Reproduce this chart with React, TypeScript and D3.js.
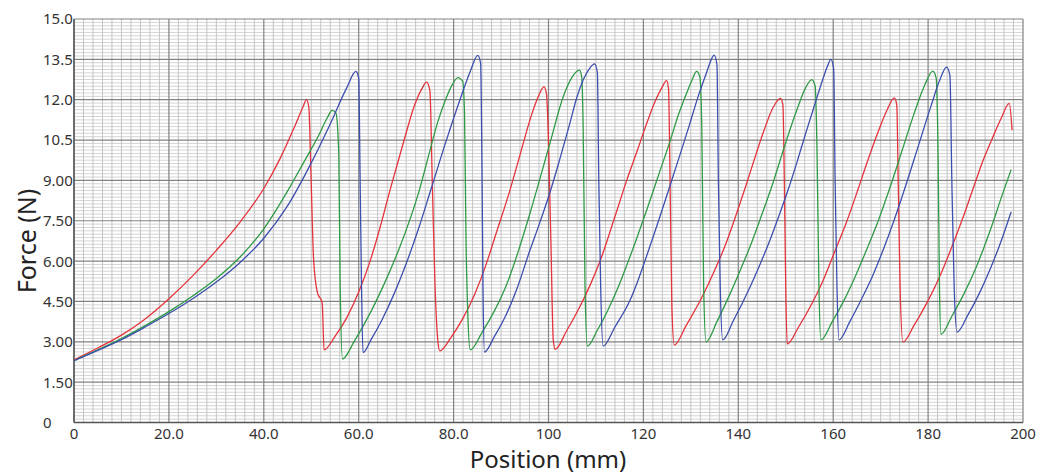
import React from 'react';
import * as d3 from 'd3';

// [position mm, force N]
const redSeries: [number, number][] = [
  [0, 2.33], [5, 2.77], [10, 3.25], [15, 3.85], [20, 4.6], [25, 5.45], [30, 6.4], [35, 7.45],
  [40, 8.7], [43.4, 9.8], [46.5, 11.0], [48.3, 11.75], [49.0, 12.0], [49.5, 11.7], [49.9, 9.5],
  [50.5, 6.04], [51.3, 4.83], [52.3, 4.46], [52.7, 2.7],
  [55, 3.2], [57.5, 3.9], [60, 4.85], [62.4, 6.0], [64.5, 7.25], [66.6, 8.64], [69.6, 10.52],
  [71.7, 11.76], [73.3, 12.4], [74.3, 12.65], [75.0, 12.35], [75.5, 9], [76.1, 5], [76.7, 3.0], [77.1, 2.66],
  [79.4, 3.15], [81.9, 3.85], [84.4, 4.75], [86.8, 5.85], [88.9, 7.0], [91.9, 8.65], [94, 9.95],
  [96.1, 11.25], [97.7, 12.05], [99.05, 12.48], [99.6, 12.2], [99.8, 11.5], [100.5, 6.78], [101.0, 3.07], [101.4, 2.72],
  [103.8, 3.4], [106.6, 4.3], [109, 5.2], [111.2, 6.16], [113.9, 7.6], [116.5, 9.01], [118.7, 10.1],
  [120.7, 11.12], [122.5, 11.95], [123.9, 12.45], [124.9, 12.71], [125.3, 12.4], [125.6, 9.26], [126.0, 4.3], [126.5, 2.88],
  [129, 3.6], [132.6, 4.75], [135, 5.65], [137.5, 6.7], [139.6, 7.75], [141.6, 8.8], [143.6, 9.9],
  [145.5, 10.9], [147.3, 11.7], [148.9, 12.05], [149.4, 11.8], [149.7, 9], [150.0, 5], [150.3, 2.92],
  [152.7, 3.55], [155.3, 4.35], [157.8, 5.25], [160.2, 6.3], [162.7, 7.4], [165.2, 8.65], [167.3, 9.75],
  [169.4, 10.77], [171.3, 11.6], [172.9, 12.07], [173.4, 11.8], [173.7, 9], [174.1, 5], [174.7, 2.99],
  [177, 3.6], [179.6, 4.4], [182, 5.25], [184.5, 6.3], [187, 7.45], [189.4, 8.65], [191.5, 9.7],
  [193.5, 10.55], [195.5, 11.35], [197.1, 11.86], [197.7, 10.87],
];

const greenSeries: [number, number][] = [
  [0, 2.3], [5, 2.7], [10, 3.12], [15, 3.6], [20, 4.12], [25, 4.7], [30, 5.35], [35, 6.15], [40, 7.2],
  [45, 8.6], [48.5, 9.7], [51.5, 10.65], [53.3, 11.3], [54.4, 11.6], [55.2, 11.5],
  [55.8, 10], [56.1, 5], [56.6, 2.36],
  [59, 3.0], [62.6, 4.13], [65.5, 5.2], [68.5, 6.45], [70.8, 7.55], [72.8, 8.65], [74.7, 9.9],
  [76.6, 11.14], [78.3, 12.0], [79.7, 12.55], [80.9, 12.82], [81.9, 12.69], [82.3, 11.5], [82.6, 7], [83.0, 4], [83.5, 2.7],
  [86, 3.35], [88.6, 4.15], [91.2, 5.14], [93.7, 6.4], [96.1, 7.78], [100.3, 10.38], [103.1, 12.11],
  [105, 12.85], [106.5, 13.1], [107.0, 12.85], [107.3, 11], [107.7, 5], [108.2, 2.84],
  [110.2, 3.4], [112.3, 4.1], [114.5, 4.95], [116.5, 5.85], [118.6, 6.85], [120.7, 7.9], [123.2, 9.2],
  [125.6, 10.45], [127.4, 11.45], [129.1, 12.24], [130.3, 12.75], [131.2, 13.05], [131.9, 12.85],
  [132.3, 11], [132.7, 5], [133.2, 3.0],
  [135.5, 3.75], [138.3, 4.8], [140.5, 5.7], [142.5, 6.55], [145, 7.75], [147.2, 8.85], [149.8, 10.3],
  [152.5, 11.7], [154.2, 12.45], [155.5, 12.75], [156.2, 12.5], [156.6, 10], [157.0, 5], [157.4, 3.07],
  [159.8, 3.75], [162.3, 4.55], [164.7, 5.45], [167.1, 6.45], [169.5, 7.5], [171.8, 8.65], [174.5, 10.1],
  [177.1, 11.51], [179.3, 12.55], [181, 13.06], [181.7, 12.8], [182.1, 10], [182.4, 5], [182.7, 3.28],
  [185, 3.95], [187.6, 4.8], [190.2, 5.8], [193, 7.1], [195.7, 8.5], [197.5, 9.4],
];

const blueSeries: [number, number][] = [
  [0, 2.3], [5, 2.68], [10, 3.08], [15, 3.55], [20, 4.05], [25, 4.6], [30, 5.22], [35, 5.95], [40, 6.85],
  [45, 8.05], [50, 9.65], [54, 11.1], [57.5, 12.45], [59.4, 13.05], [60.0, 12.8], [60.3, 9], [60.6, 5], [60.9, 2.6],
  [62.6, 3.08], [65, 3.85], [67.5, 4.8], [70, 5.9], [72.6, 7.2], [75.2, 8.65], [78.4, 10.45], [81.6, 12.13],
  [83.5, 13.05], [85.1, 13.65], [85.7, 13.35], [86.0, 9], [86.2, 5], [86.5, 2.62],
  [88.6, 3.2], [91, 3.98], [93.5, 5.05], [96.1, 6.41], [98.2, 7.45], [100.3, 8.55], [102.4, 9.8],
  [104.5, 11.12], [106, 12.1], [107.3, 12.73], [108.6, 13.15], [109.7, 13.33], [110.3, 13.0], [110.6, 9], [111.0, 5], [111.5, 2.84],
  [114, 3.55], [117.2, 4.55], [118.9, 5.3], [120.7, 6.2], [123.2, 7.5], [125.6, 8.8], [127.7, 9.95],
  [129.8, 11.12], [131.6, 12.15], [133.3, 13.0], [134.2, 13.45], [134.9, 13.66], [135.5, 13.3], [135.8, 9], [136.2, 5], [136.7, 3.07],
  [139, 3.8], [142.5, 5.05], [144.5, 5.85], [146.5, 6.7], [148.5, 7.65], [150.5, 8.65], [152.4, 9.7],
  [154.2, 10.75], [156, 11.76], [157.8, 12.75], [158.8, 13.25], [159.5, 13.5], [160.1, 13.15], [160.4, 9], [160.8, 5], [161.2, 3.07],
  [163.5, 3.75], [166, 4.6], [168.3, 5.45], [170.6, 6.45], [172.8, 7.5], [175, 8.65], [177.8, 10.2],
  [180.6, 11.76], [182.5, 12.75], [183.9, 13.21], [184.6, 12.9], [185.0, 9], [185.5, 5], [186.1, 3.36],
  [188.4, 4.0], [190.8, 4.8], [193.2, 5.75], [195.4, 6.75], [197.5, 7.83],
];

const xTickValues = [0, 20, 40, 60, 80, 100, 120, 140, 160, 180, 200];
const xTickLabels = ['0', '20.0', '40.0', '60.0', '80.0', '100', '120', '140', '160', '180', '200'];
const yTickValues = [0, 1.5, 3, 4.5, 6, 7.5, 9, 10.5, 12, 13.5, 15];
const yTickLabels = ['0', '1.50', '3.00', '4.50', '6.00', '7.50', '9.00', '10.5', '12.0', '13.5', '15.0'];

const W = 1042;
const H = 475;
const margin = { left: 74, right: 19, top: 19, bottom: 52.5 };

export default function App() {
  const x = d3.scaleLinear().domain([0, 200]).range([margin.left, W - margin.right]);
  const y = d3.scaleLinear().domain([0, 15]).range([H - margin.bottom, margin.top]);

  const line = d3.line<[number, number]>()
    .x(d => x(d[0]))
    .y(d => y(d[1]))
    .curve(d3.curveMonotoneX);

  // minor grid: every 2 mm, every 0.125 N
  const minorX = d3.range(0, 101).filter(i => i % 10 !== 0).map(i => i * 2);
  const minorY = d3.range(0, 121).filter(i => i % 12 !== 0).map(i => i * 0.125);

  const font = '"Noto Sans", "Open Sans", sans-serif';

  return (
    <svg width={W} height={H} style={{ position: 'fixed', left: 0, top: 0, display: 'block', background: '#fff' }}>
      <defs>
        <clipPath id="plot">
          <rect x={x(0)} y={y(15)} width={x(200) - x(0)} height={y(0) - y(15)} />
        </clipPath>
      </defs>

      <g>
        {minorY.map(v => (
          <line key={'my' + v} x1={x(0)} x2={x(200)} y1={y(v)} y2={y(v)} stroke="#d4d4d4" strokeWidth={1} />
        ))}
        {minorX.map(v => (
          <line key={'mx' + v} x1={x(v)} x2={x(v)} y1={y(0)} y2={y(15)} stroke="#c4c4c4" strokeWidth={1} />
        ))}
        {yTickValues.map(v => (
          <line key={'gy' + v} x1={x(0)} x2={x(200)} y1={y(v)} y2={y(v)} stroke="#828282" strokeWidth={1.2} />
        ))}
        {xTickValues.map(v => (
          <line key={'gx' + v} x1={x(v)} x2={x(v)} y1={y(0)} y2={y(15)} stroke="#828282" strokeWidth={1.2} />
        ))}
        <line x1={x(0)} x2={x(0)} y1={y(0)} y2={y(15)} stroke="#555" strokeWidth={1.5} />
        <line x1={x(0)} x2={x(200)} y1={y(0)} y2={y(0)} stroke="#555" strokeWidth={1.5} />
      </g>

      <g clipPath="url(#plot)" fill="none" strokeWidth={1.3} strokeLinejoin="round">
        <path d={line(redSeries) || ''} stroke="#e5333b" />
        <path d={line(greenSeries) || ''} stroke="#2f9a45" />
        <path d={line(blueSeries) || ''} stroke="#3d4fae" />
      </g>

      <g fontFamily={font} fontSize={15} fill="#333">
        {yTickValues.map((v, i) => (
          <text key={'yl' + v} x={43} y={y(v)} dy="0.36em" textAnchor="start">{yTickLabels[i]}</text>
        ))}
        {xTickValues.map((v, i) => (
          <text key={'xl' + v} x={x(v)} y={438.5} textAnchor="middle">{xTickLabels[i]}</text>
        ))}
      </g>

      <text x={548} y={467.5} textAnchor="middle" fontFamily={font} fontSize={24} fill="#222">Position (mm)</text>
      <text transform="translate(36,241) rotate(-90)" textAnchor="middle" fontFamily={font} fontSize={25} fill="#222">Force (N)</text>
    </svg>
  );
}
